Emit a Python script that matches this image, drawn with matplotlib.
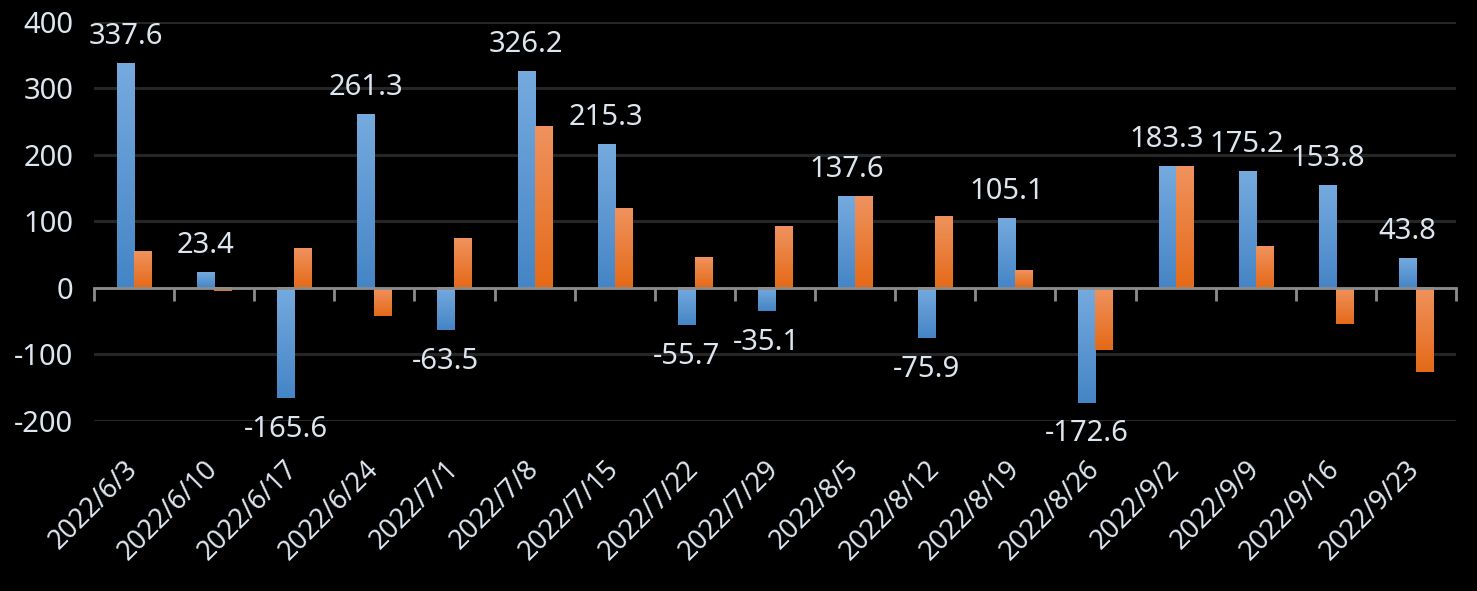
import numpy as np
import matplotlib.pyplot as plt
from matplotlib.colors import LinearSegmentedColormap

# datos
fechas = ['2022/6/3', '2022/6/10', '2022/6/17', '2022/6/24', '2022/7/1', '2022/7/8',
          '2022/7/15', '2022/7/22', '2022/7/29', '2022/8/5', '2022/8/12', '2022/8/19',
          '2022/8/26', '2022/9/2', '2022/9/9', '2022/9/16', '2022/9/23']
serie_azul = [337.6, 23.4, -165.6, 261.3, -63.5, 326.2, 215.3, -55.7, -35.1, 137.6,
              -75.9, 105.1, -172.6, 183.3, 175.2, 153.8, 43.8]
serie_naranja = [55, -5, 59, -42, 75, 243, 120, 46, 92, 137, 107, 27, -93, 183.3, 63, -54, -127]

plt.rcParams['font.family'] = ['Noto Sans', 'DejaVu Sans']
plt.rcParams['axes.unicode_minus'] = False
texto = '#dde5ee'

fig = plt.figure(figsize=(14.77, 5.91), dpi=100, facecolor='black')
ax = fig.add_axes([0.0636, 0.2877, 0.9222, 0.6751], facecolor='black')

x = np.arange(len(fechas))
ancho = 0.2125
barras_a = ax.bar(x - ancho / 2, serie_azul, ancho, color='none', zorder=3)
barras_n = ax.bar(x + ancho / 2, serie_naranja, ancho, color='none', zorder=3)

# degradado dentro de cada barra (claro arriba, oscuro abajo)
cm_azul = LinearSegmentedColormap.from_list('az', ['#4585c6', '#75aade'])
cm_naranja = LinearSegmentedColormap.from_list('na', ['#e46a18', '#f0925e'])
grad = np.linspace(0, 1, 100).reshape(-1, 1)
for barras, cm in ((barras_a, cm_azul), (barras_n, cm_naranja)):
    for b in barras:
        x0, y0 = b.get_x(), b.get_y()
        x1, y1 = x0 + b.get_width(), y0 + b.get_height()
        ax.imshow(grad, cmap=cm, extent=(x0, x1, min(y0, y1), max(y0, y1)),
                  origin='lower', aspect='auto', zorder=3)

# etiquetas de la serie azul
for b, v in zip(barras_a, serie_azul):
    cx = b.get_x() + b.get_width() / 2
    if v >= 0:
        ax.annotate(f'{v:.1f}', (cx, v), xytext=(0, 9), textcoords='offset points',
                    ha='center', va='bottom', fontsize=21, color=texto, clip_on=False)
    else:
        ax.annotate(f'{v:.1f}', (cx, v), xytext=(0, -12), textcoords='offset points',
                    ha='center', va='top', fontsize=21, color=texto, clip_on=False)

ax.set_xlim(-0.5, len(fechas) - 0.5)
ax.set_ylim(-200, 400)
ax.set_yticks([-200, -100, 0, 100, 200, 300, 400])
ax.yaxis.grid(True, color='#262626', linewidth=2.2, zorder=0)
ax.set_axisbelow(True)
for s in ax.spines.values():
    s.set_visible(False)
ax.tick_params(axis='y', length=0, pad=15, labelsize=21, labelcolor=texto)
ax.set_xticks(x)
ax.set_xticklabels(fechas, rotation=45, ha='right', va='center', rotation_mode='anchor')
ax.tick_params(axis='x', length=0, pad=32, labelsize=19.5, labelcolor=texto)

# eje cero con marcas entre categorias
ax2 = ax.twiny()
ax2.set_xlim(ax.get_xlim())
ax2.set_facecolor('none')
for s in ax2.spines.values():
    s.set_visible(False)
ax2.spines['bottom'].set_visible(True)
ax2.spines['bottom'].set_position(('data', 0))
ax2.spines['bottom'].set_color('#8c8c8c')
ax2.spines['bottom'].set_linewidth(2)
ax2.spines['bottom'].set_zorder(4)
ax2.xaxis.set_ticks_position('bottom')
ax2.set_xticks(np.arange(len(fechas) + 1) - 0.5)
ax2.set_xticklabels([])
ax2.tick_params(axis='x', direction='out', length=9, width=2, color='#8c8c8c')

fig.savefig('out.png', dpi=100, facecolor='black')
